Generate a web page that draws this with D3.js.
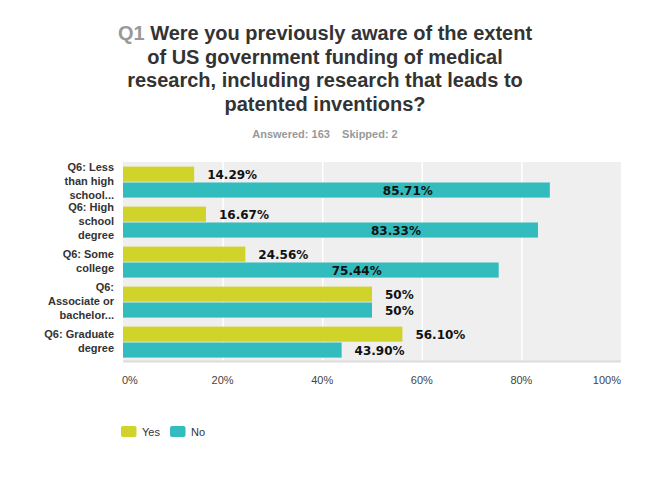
<!DOCTYPE html>
<html><head><meta charset="utf-8">
<script src="https://cdn.jsdelivr.net/npm/d3@7"></script>
<style>
html,body{margin:0;padding:0;background:#fff;}
svg{display:block;}
</style></head>
<body>
<script>
const titleLines = [
  ["Q1 ", "Were you previously aware of the extent"],
  ["", "of US government funding of medical"],
  ["", "research, including research that leads to"],
  ["", "patented inventions?"]
];
const subtitle = "Answered: 163    Skipped: 2";
const categories = [
  "Q6: Less|than high|school...",
  "Q6: High|school|degree",
  "Q6: Some|college",
  "Q6:|Associate or|bachelor...",
  "Q6: Graduate|degree"
];
const seriesNames = ["Yes", "No"];
const yesValues = [14.29, 16.67, 24.56, 50, 56.10];
const noValues = [85.71, 83.33, 75.44, 50, 43.90];
const yesLabels = ["14.29%", "16.67%", "24.56%", "50%", "56.10%"];
const noLabels = ["85.71%", "83.33%", "75.44%", "50%", "43.90%"];
const tickValues = [0, 20, 40, 60, 80, 100];
const colors = ["#d0d32a", "#33bcbe"];

const W = 650, H = 477;
const svg = d3.select("body").append("svg").attr("width", W).attr("height", H);
const font = "'Liberation Sans', Arial, sans-serif";

// Title
const tY = [40, 63.5, 87, 110.5];
titleLines.forEach((ln, i) => {
  const t = svg.append("text").attr("x", 325).attr("y", tY[i])
    .attr("text-anchor", "middle").attr("font-family", font)
    .attr("font-weight", "bold").attr("font-size", 20).attr("fill", "#333");
  if (ln[0]) t.append("tspan").attr("fill", "#999").text(ln[0]);
  t.append("tspan").text(ln[1]);
});
svg.append("text").attr("x", 325).attr("y", 138).attr("text-anchor", "middle")
  .attr("font-family", font).attr("font-weight", "bold").attr("font-size", 11)
  .attr("fill", "#999").attr("xml:space", "preserve").style("white-space", "pre").text(subtitle);

// Scales
const x = d3.scaleLinear().domain([0, 100]).range([123, 621]);
const y = d3.scaleBand().domain(categories).range([162, 362]);
const ySub = d3.scaleBand().domain(seriesNames).range([4.6, 35.6]).paddingInner(0.05);

// Plot background
svg.append("rect").attr("x", x(0)).attr("y", 162).attr("width", x(100) - x(0)).attr("height", 200)
  .attr("fill", "#efefef");
// Grid
svg.append("g").selectAll("line").data(tickValues.slice(1, -1)).join("line")
  .attr("x1", d => x(d) + 0.5).attr("x2", d => x(d) + 0.5)
  .attr("y1", 162).attr("y2", 362).attr("stroke", "#fff").attr("stroke-width", 1.5);
svg.append("line").attr("x1", x(0)).attr("x2", x(100)).attr("y1", 361.5).attr("y2", 361.5)
  .attr("stroke", "#dcdcdc").attr("stroke-width", 2);

// Bars
const series = [yesValues, noValues];
const labels = [yesLabels, noLabels];
series.forEach((vals, si) => {
  const g = svg.append("g");
  g.selectAll("rect").data(vals).join("rect")
    .attr("x", x(0))
    .attr("y", (d, i) => y(categories[i]) + ySub(seriesNames[si]))
    .attr("width", d => x(d) - x(0))
    .attr("height", ySub.bandwidth())
    .attr("fill", colors[si]);
  g.selectAll("text").data(vals).join("text")
    .attr("x", d => d > 60 ? x(d) - 167 : x(d) + 13)
    .attr("y", (d, i) => y(categories[i]) + ySub(seriesNames[si]) + ySub.bandwidth() / 2 + 5.3)
    .attr("font-family", "'DejaVu Sans', sans-serif").attr("font-weight", "bold")
    .attr("font-size", 12).attr("fill", "#111")
    .text((d, i) => labels[si][i]);
});

// Category labels
categories.forEach(c => {
  const lines = c.split("|");
  const cy = y(c) + y.bandwidth() / 2;
  const t = svg.append("text").attr("text-anchor", "end").attr("font-family", font)
    .attr("font-weight", "bold").attr("font-size", 11).attr("fill", "#333");
  lines.forEach((ln, i) => {
    t.append("tspan").attr("x", 114)
      .attr("y", cy + (i - (lines.length - 1) / 2) * 14 + 3)
      .text(ln);
  });
});

// X axis labels
svg.append("g").selectAll("text").data(tickValues).join("text")
  .attr("x", d => d === 0 ? x(d) - 1 : (d === 100 ? x(d) : x(d)))
  .attr("y", 384)
  .attr("text-anchor", d => d === 0 ? "start" : (d === 100 ? "end" : "middle"))
  .attr("font-family", font).attr("font-size", 11).attr("fill", "#444")
  .text(d => d + "%");

// Legend
const legX = [121, 170];
seriesNames.forEach((s, i) => {
  svg.append("rect").attr("x", legX[i]).attr("y", 426).attr("width", 15.5).attr("height", 11)
    .attr("rx", 2).attr("fill", colors[i]);
  svg.append("text").attr("x", legX[i] + 21).attr("y", 435.5)
    .attr("font-family", font).attr("font-size", 11).attr("fill", "#333").text(s);
});
</script>
</body></html>
